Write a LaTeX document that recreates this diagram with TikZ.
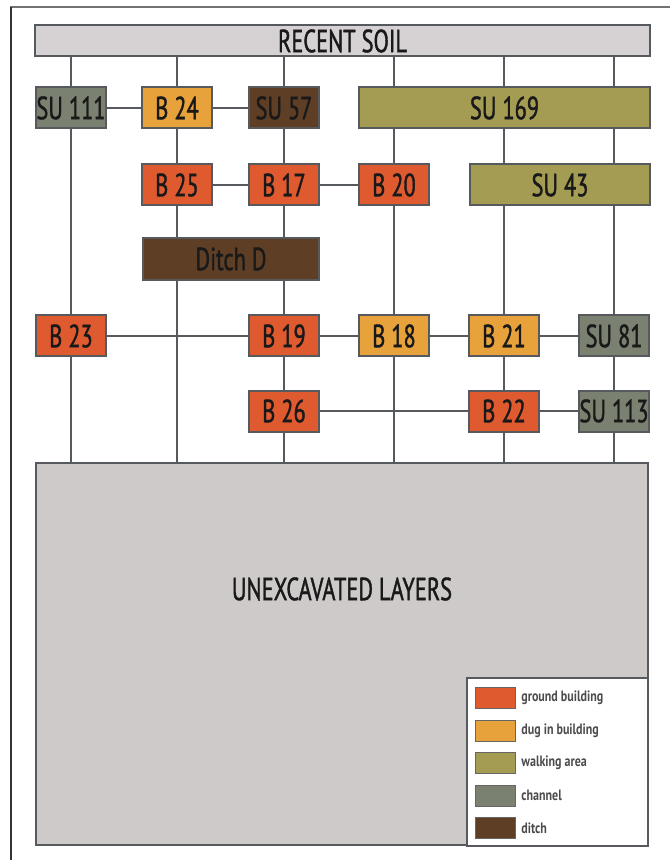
\documentclass[tikz,border=0pt]{standalone}
\usepackage{fontspec}
\setmainfont{PT Sans}[FakeStretch=0.7, FakeBold=1.2]
\newfontfamily\legfont{PT Sans}[FakeStretch=0.8]
\usetikzlibrary{positioning}

\definecolor{groundbld}{HTML}{E05A30}
\definecolor{dugbld}{HTML}{E7A23C}
\definecolor{walkarea}{HTML}{A49C52}
\definecolor{channel}{HTML}{7B8171}
\definecolor{ditch}{HTML}{5E3F25}
\definecolor{layer}{HTML}{CECACA}
\definecolor{soil}{HTML}{D6D2D4}
\definecolor{linegray}{HTML}{56595E}

\tikzset{
  unit/.style={draw=linegray, line width=1pt, minimum width=35pt, minimum height=20.5pt,
    inner sep=0pt, text=black!90, font=\fontsize{16}{16}\selectfont},
  link/.style={draw=linegray, line width=1pt},
  swatch/.style={draw=black!60, line width=0.5pt, minimum width=20pt, minimum height=10.5pt, inner sep=0pt},
  legtext/.style={anchor=west, inner sep=0pt, text=black!70, font=\legfont\fontsize{7.5}{7.5}\selectfont\bfseries},
}

\begin{document}
\begin{tikzpicture}[x=0.5pt, y=-0.5pt]
    \useasboundingbox (0,0) rectangle (670,860);
    % frame
    \draw[black!55, line width=1pt] (10,7) -- (670,7);
    \draw[black!80, line width=0.8pt] (11,7) -- (11,860);

    % layers
    \node[unit, fill=soil, minimum width=307.5pt, minimum height=15.5pt] (soil) at (342.5,41) {RECENT SOIL};
    \node[unit, fill=layer, minimum width=306pt, minimum height=191pt] (unexc) at (342,654) {};
    \node[text=black!90, font=\fontsize{16}{16}\selectfont] (unexctxt) at (342,589) {UNEXCAVATED LAYERS};

    % units
    \node[unit, fill=channel] (su111) at (71,108) {SU 111};
    \node[unit, fill=dugbld] (b24) at (177,108) {B 24};
    \node[unit, fill=ditch] (su57) at (284,108) {SU 57};
    \node[unit, fill=walkarea, minimum width=145.5pt] (su169) at (504.5,108) {SU 169};
    \node[unit, fill=groundbld] (b25) at (177,185) {B 25};
    \node[unit, fill=groundbld] (b17) at (284,185) {B 17};
    \node[unit, fill=groundbld] (b20) at (394,185) {B 20};
    \node[unit, fill=walkarea, minimum width=90pt] (su43) at (560,185) {SU 43};
    \node[unit, fill=ditch, minimum width=88pt, minimum height=21pt] (ditchd) at (231,259) {Ditch D};
    \node[unit, fill=groundbld] (b23) at (71,336) {B 23};
    \node[unit, fill=groundbld] (b19) at (284,336) {B 19};
    \node[unit, fill=dugbld] (b18) at (394,336) {B 18};
    \node[unit, fill=dugbld] (b21) at (504,336) {B 21};
    \node[unit, fill=channel] (su81) at (614,336) {SU 81};
    \node[unit, fill=groundbld] (b26) at (284,411) {B 26};
    \node[unit, fill=groundbld] (b22) at (504,411) {B 22};
    \node[unit, fill=channel] (su113) at (614,411) {SU 113};

    % vertical links
    \draw[link] (soil.south -| su111) -- (su111.north);
    \draw[link] (su111) -- (b23);
    \draw[link] (b23.south) -- (unexc.north -| b23);
    \draw[link] (soil.south -| b24) -- (b24.north);
    \draw[link] (b24) -- (b25);
    \draw[link] (b25.south) -- (ditchd.north -| b25);
    \draw[link] (ditchd.south -| b25) -- (unexc.north -| b25);
    \draw[link] (soil.south -| su57) -- (su57.north);
    \draw[link] (su57) -- (b17);
    \draw[link] (b17.south) -- (ditchd.north -| b17);
    \draw[link] (ditchd.south -| b19) -- (b19.north);
    \draw[link] (b19) -- (b26);
    \draw[link] (b26.south) -- (unexc.north -| b26);
    \draw[link] (soil.south -| b20) -- (su169.north -| b20);
    \draw[link] (su169.south -| b20) -- (b20.north);
    \draw[link] (b20) -- (b18);
    \draw[link] (b18.south) -- (unexc.north -| b18);
    \draw[link] (soil.south -| b21) -- (su169.north -| b21);
    \draw[link] (su169.south -| b21) -- (su43.north -| b21);
    \draw[link] (su43.south -| b21) -- (b21.north);
    \draw[link] (b21) -- (b22);
    \draw[link] (b22.south) -- (unexc.north -| b22);
    \draw[link] (soil.south -| su81) -- (su169.north -| su81);
    \draw[link] (su169.south -| su81) -- (su43.north -| su81);
    \draw[link] (su43.south -| su81) -- (su81.north);
    \draw[link] (su81) -- (su113);
    \draw[link] (su113.south) -- (unexc.north -| su113);

    % horizontal links
    \draw[link] (su111) -- (b24);
    \draw[link] (b24) -- (su57);
    \draw[link] (b25) -- (b17);
    \draw[link] (b17) -- (b20);
    \draw[link] (b23) -- (b19);
    \draw[link] (b19) -- (b18);
    \draw[link] (b18) -- (b21);
    \draw[link] (b21) -- (su81);
    \draw[link] (b26) -- (b22);
    \draw[link] (b22) -- (su113);

    % legend
    \node[draw=linegray, line width=1pt, fill=white, minimum width=90.5pt, minimum height=84pt] (legend) at (557.5,761.5) {};
    \foreach \col/\txt [count=\i] in {groundbld/ground building, dugbld/dug in building,
        walkarea/walking area, channel/channel, ditch/ditch} {
      \node[swatch, fill=\col] (sw\i) at (495,{698+32.5*(\i-1)}) {};
      \node[legtext] (lt\i) at (521,{698+32.5*(\i-1)}) {\txt};
    }
\end{tikzpicture}
\end{document}
